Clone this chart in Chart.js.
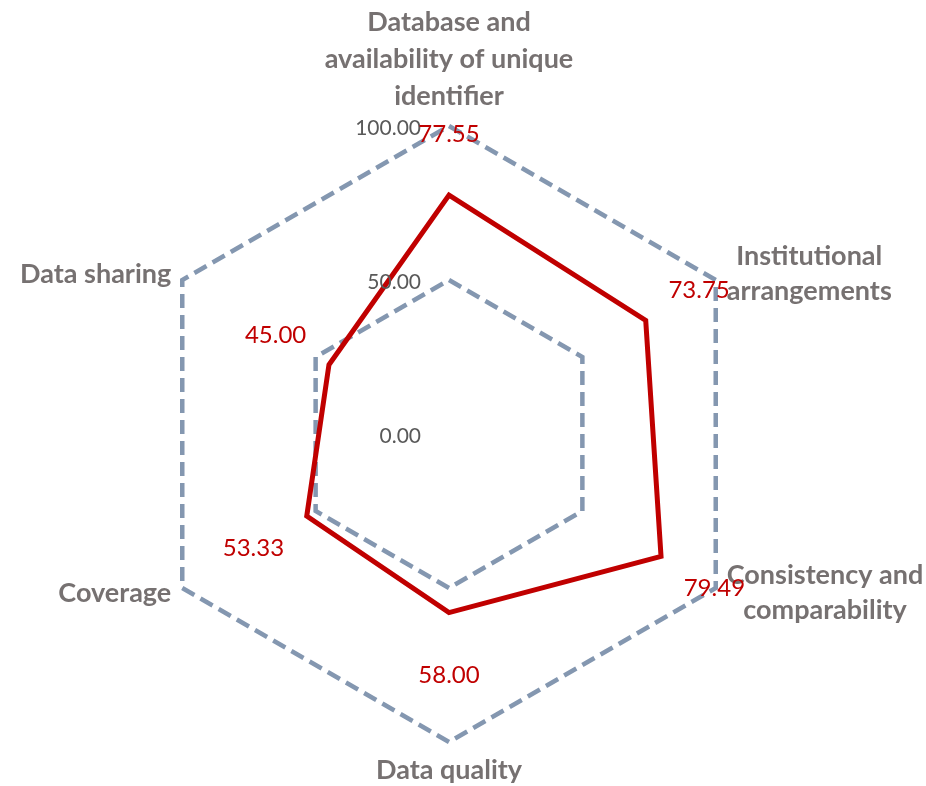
<!DOCTYPE html>
<html>
<head>
<meta charset="utf-8">
<script src="https://cdn.jsdelivr.net/npm/chart.js@4/dist/chart.umd.min.js"></script>
<style>
  html, body { margin: 0; padding: 0; background: #fff; }
  #wrap { width: 926px; height: 786px; position: relative; }
</style>
</head>
<body>
<div id="wrap"><canvas id="radar"></canvas></div>
<script>
// Data
const categories = [
    ['Database and', 'availability of unique', 'identifier'],
    ['Institutional', 'arrangements'],
    ['Consistency and', 'comparability'],
    ['Data quality'],
    ['Coverage'],
    ['Data sharing']
];
const scores = [77.55, 73.75, 79.49, 58.00, 53.33, 45.00];
const tickValues = [0, 50, 100];

const fontName = 'Lato, "Open Sans", sans-serif';

// Labels rond de grafiek zelf tekenen
const labelPlugin = {
    id: 'labelPlugin',
    afterDraw(chart) {
        const ctx = chart.ctx;
        const r = chart.scales.r;
        ctx.save();

        // tick labels links van het midden
        ctx.font = '21px ' + fontName;
        ctx.fillStyle = '#595959';
        ctx.textAlign = 'right';
        ctx.textBaseline = 'middle';
        tickValues.forEach((v) => {
            const y = r.yCenter - r.getDistanceFromCenterForValue(v);
            ctx.fillText(v.toFixed(2), r.xCenter - 28, y + 2);
        });

        // categorie labels
        ctx.font = 'bold 27px ' + fontName;
        ctx.fillStyle = '#767171';
        ctx.textAlign = 'center';
        categories.forEach((lines, i) => {
            const p = r.getPointPositionForValue(i, 100);
            const w = Math.max(...lines.map((l) => ctx.measureText(l).width));
            const n = lines.length;
            let lh = 35;
            let cx = p.x;
            let cy;
            if (i === 0) {
                lh = 37;
                cy = p.y - 30 - (n - 1) * lh / 2;
            } else if (i === 3) {
                cy = p.y + 28;
            } else {
                cx = p.x < r.xCenter ? p.x - 11 - w / 2 : p.x + 11 + w / 2;
                cy = p.y < r.yCenter ? p.y - 6 : p.y + 5;
            }
            lines.forEach((l, k) => {
                ctx.fillText(l, cx, cy + (k - (n - 1) / 2) * lh);
            });
        });

        // data labels
        ctx.font = '24px ' + fontName;
        ctx.fillStyle = '#C00000';
        scores.forEach((v, i) => {
            const p = r.getPointPositionForValue(i, v + 20);
            ctx.fillText(v.toFixed(2), p.x, p.y + 1);
        });
        ctx.restore();
    }
};

new Chart(document.getElementById('radar'), {
    type: 'radar',
    data: {
        labels: categories.map((c) => c.join(' ')),
        datasets: [
            {
                label: 'Score',
                data: scores,
                borderColor: '#C00000',
                borderWidth: 5,
                backgroundColor: 'rgba(0,0,0,0)',
                fill: false,
                pointRadius: 0,
                tension: 0
            }
        ]
    },
    options: {
        responsive: true,
        maintainAspectRatio: false,
        animation: false,
        layout: { padding: { top: 126, bottom: 44, left: 0, right: 28 } },
        plugins: {
            legend: { display: false },
            tooltip: { enabled: false }
        },
        scales: {
            r: {
                min: 0,
                max: 100,
                ticks: { stepSize: 50, display: false },
                angleLines: { display: false },
                pointLabels: { display: false },
                grid: { color: '#8497B0', lineWidth: 4.5 },
                border: { dash: [14, 7] }
            }
        }
    },
    plugins: [labelPlugin]
});
</script>
</body>
</html>
